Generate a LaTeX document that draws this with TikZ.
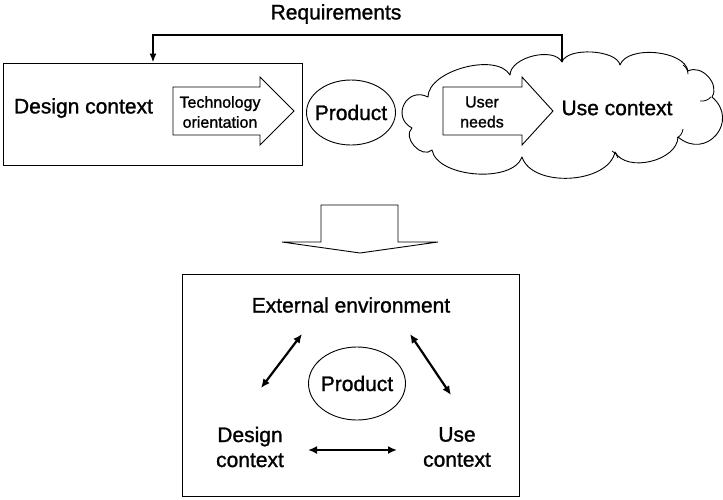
\documentclass[tikz,border=0pt]{standalone}
\usepackage{fontspec}
\setmainfont{Liberation Sans}[FakeBold=1.2]
\usetikzlibrary{arrows.meta,shapes.geometric}
\tikzset{
  big/.style={font=\fontsize{21}{25}\selectfont, align=center, inner sep=0pt},
  small/.style={font=\fontsize{16}{20}\selectfont, align=center, inner sep=0pt},
  outline/.style={draw=black, line width=0.9pt},
  blockarrow/.style={outline, fill=white, line join=miter},
  feedback/.style={line width=2pt, -{Latex[length=9pt,width=7pt]}},
  link/.style={line width=2.2pt, {Latex[length=9pt,width=8pt]}-{Latex[length=9pt,width=8pt]}},
  puff/.style={bend left=75, looseness=#1},
  roundpuff/.style={bend left=90, looseness=#1},
  hook/.style={draw=black, line width=0.8pt}
}
\begin{document}
\begin{tikzpicture}[x=1pt, y=-1pt]
  \useasboundingbox (0,0) rectangle (723,499);
  \fill[white] (0,0) rectangle (723,499);

  % ---- upper scheme ----
  \node[big] (req) at (336,14) {Requirements};

  \node[outline, minimum width=299pt, minimum height=102pt, inner sep=0pt] (dbox) at (152.5,114) {};
  \node[big] (dctxT) at (83.5,108) {Design context};

  \draw[blockarrow] (173,87) -- (260,87) -- (260,77) -- (294,111) -- (260,145)
        -- (260,135) -- (173,135) -- cycle;
  \node[small] (tech) at (220,112) {Technology\\orientation};

  \node[outline, ellipse, minimum width=89pt, minimum height=65pt, inner sep=0pt]
        (prodT) at (351,112.5) {};
  \node[big] at (prodT) {Product};

  % cloud outline, traced clockwise lobe by lobe
  \coordinate (cj) at (562,62);
  \draw[outline, fill=white, line join=round]
    (412,128) to[roundpuff=1.75] (428,97)
              to[puff=0.8]  (510,75)
              to[puff=0.85] (cj)
              to[puff=0.7]  (620,65)
              to[puff=0.8]  (688,71)
              to[puff=1.1]  (712,97)
              to[roundpuff=1.8] (678,137)
              to[puff=0.95] (615,152)
              to[puff=0.9]  (522,157)
              to[puff=0.8]  (432,150)
              to[roundpuff=1.2] cycle;
  % short inner arcs where the puffs overlap
  \draw[hook] (683,65) to[bend left=25] (688,74);
  \draw[hook] (700,101) to[bend right=25] (711,97);
  \draw[hook] (677,138) to[bend right=25] (683,129);
  \draw[hook] (612,151) to[bend left=25] (618,158);

  \draw[blockarrow] (443,87) -- (522,87) -- (522,77) -- (553,111) -- (522,145)
        -- (522,135) -- (443,135) -- cycle;
  \node[small] (needs) at (482,112) {User\\needs};
  \node[big] (uctxT) at (617,108) {Use context};

  \coordinate (fbL) at (153,35);
  \draw[feedback] (cj) |- (fbL) -- (fbL |- dbox.north);

  % ---- transition arrow ----
  \draw[blockarrow] (321,205) -- (398,205) -- (398,242) -- (438,242) -- (360,253)
        -- (282,242) -- (321,242) -- cycle;

  % ---- lower scheme ----
  \node[outline, minimum width=337pt, minimum height=222pt, inner sep=0pt] (lbox) at (350.5,385) {};
  \node[big] (ext) at (351,305) {External environment};
  \node[outline, ellipse, minimum width=97pt, minimum height=73pt, inner sep=0pt]
        (prodB) at (357,383.5) {};
  \node[big] at (prodB) {Product};
  \node[big] (dctxB) at (250,447) {Design\\context};
  \node[big] (uctxB) at (457,447) {Use\\context};

  \draw[link] ([shift={(-49,29)}]ext.center) -- ([shift={(11,-59)}]dctxB.center);
  \draw[link] ([shift={(59,29)}]ext.center) -- ([shift={(-6,-52)}]uctxB.center);
  \draw[link] ([shift={(58,3)}]dctxB.center) -- ([shift={(-60,3)}]uctxB.center);
\end{tikzpicture}
\end{document}
